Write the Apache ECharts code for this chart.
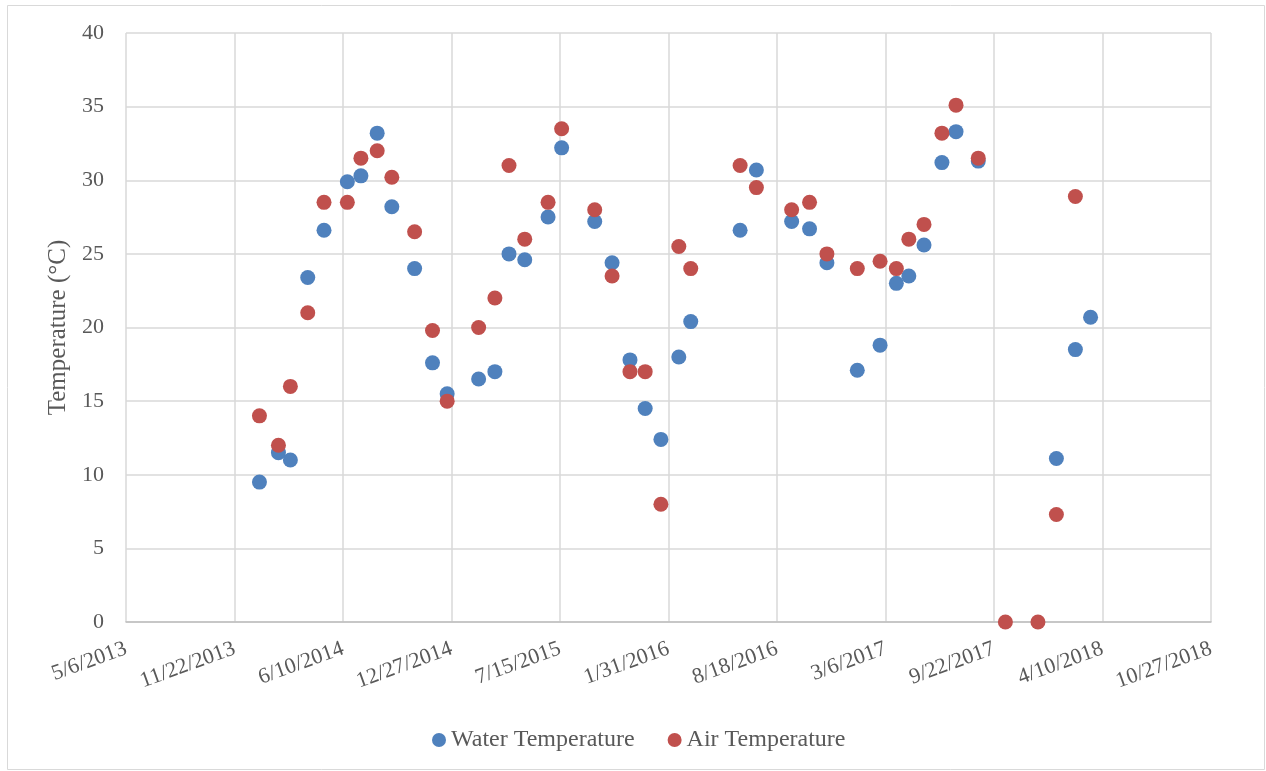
<!DOCTYPE html>
<html>
<head>
<meta charset="utf-8">
<script src="https://cdn.jsdelivr.net/npm/echarts@6/dist/echarts.min.js"></script>
<style>
html,body{margin:0;padding:0;background:#fff;}
#chart{width:1266px;height:771px;}
</style>
</head>
<body>
<div id="chart"></div>
<script>
// Sample dates (YYYY-MM-DD)
const sampleDates = [
  "2014-01-07","2014-02-11","2014-03-05","2014-04-06","2014-05-06","2014-06-18",
  "2014-07-13","2014-08-12","2014-09-08","2014-10-20","2014-11-22","2014-12-19",
  "2015-02-15","2015-03-17","2015-04-12","2015-05-11","2015-06-23","2015-07-18",
  "2015-09-17","2015-10-19","2015-11-21","2015-12-19","2016-01-17","2016-02-19",
  "2016-03-12","2016-06-11","2016-07-11","2016-09-14","2016-10-17","2016-11-18",
  "2017-01-13","2017-02-24","2017-03-26","2017-04-18","2017-05-16","2017-06-18",
  "2017-07-14","2017-08-24","2017-10-13","2017-12-12","2018-01-15","2018-02-19",
  "2018-03-19"
];
const waterTemp = [
  9.5, 11.5, 11.0, 23.4, 26.6, 29.9,
  30.3, 33.2, 28.2, 24.0, 17.6, 15.5,
  16.5, 17.0, 25.0, 24.6, 27.5, 32.2,
  27.2, 24.4, 17.8, 14.5, 12.4, 18.0,
  20.4, 26.6, 30.7, 27.2, 26.7, 24.4,
  17.1, 18.8, 23.0, 23.5, 25.6, 31.2,
  33.3, 31.3, null, null, 11.1, 18.5,
  20.7
];
const airTemp = [
  14.0, 12.0, 16.0, 21.0, 28.5, 28.5,
  31.5, 32.0, 30.2, 26.5, 19.8, 15.0,
  20.0, 22.0, 31.0, 26.0, 28.5, 33.5,
  28.0, 23.5, 17.0, 17.0, 8.0, 25.5,
  24.0, 31.0, 29.5, 28.0, 28.5, 25.0,
  24.0, 24.5, 24.0, 26.0, 27.0, 33.2,
  35.1, 31.5, 0, 0, 7.3, 28.9,
  null
];
// Axis settings (Excel serial day numbers): 5/6/2013 .. 10/27/2018, step 200 days
const xMinSerial = 41400;
const xMaxSerial = 43400;
const xStepDays = 200;
const yMin = 0, yMax = 40, yStep = 5;

const EXCEL_EPOCH = Date.UTC(1899, 11, 30);
function toSerial(s) {
  const p = s.split('-').map(Number);
  return Math.round((Date.UTC(p[0], p[1] - 1, p[2]) - EXCEL_EPOCH) / 86400000);
}
function serialToLabel(v) {
  const d = new Date(EXCEL_EPOCH + v * 86400000);
  return (d.getUTCMonth() + 1) + '/' + d.getUTCDate() + '/' + d.getUTCFullYear();
}
function pairs(vals) {
  const out = [];
  sampleDates.forEach((s, i) => { if (vals[i] !== null) out.push([toSerial(s), vals[i]]); });
  return out;
}

const font = '"Liberation Serif", "Times New Roman", serif';
const textColor = '#595959';
const chart = echarts.init(document.getElementById('chart'));
chart.setOption({
  backgroundColor: '#fff',
  animation: false,
  textStyle: { fontFamily: font },
  graphic: [{
    type: 'rect', left: 5, top: 3, z: -1,
    shape: { width: 1257, height: 764 },
    style: { fill: 'none', stroke: '#d9d9d9', lineWidth: 1 }
  }],
  grid: { left: 126, right: 55, top: 33, bottom: 149, containLabel: false },
  xAxis: {
    type: 'value',
    min: xMinSerial, max: xMaxSerial, interval: xStepDays,
    axisLine: { show: true, lineStyle: { color: '#bfbfbf', width: 1.5 } },
    axisTick: { show: false },
    splitLine: { show: true, lineStyle: { color: '#d9d9d9', width: 1.5 } },
    axisLabel: {
      rotate: 20, margin: 26, fontSize: 22, color: textColor, fontFamily: font,
      formatter: serialToLabel
    }
  },
  yAxis: {
    type: 'value',
    min: yMin, max: yMax, interval: yStep,
    name: 'Temperature (°C)',
    nameLocation: 'middle', nameGap: 55,
    nameTextStyle: { fontSize: 25, color: textColor, fontFamily: font },
    axisLine: { show: false },
    axisTick: { show: false },
    splitLine: { show: true, lineStyle: { color: '#d9d9d9', width: 1.5 } },
    axisLabel: { fontSize: 22, color: textColor, fontFamily: font, margin: 22 }
  },
  legend: {
    top: 723, left: 427,
    icon: 'circle', itemWidth: 14, itemHeight: 14, itemGap: 33,
    textStyle: { fontSize: 24, color: textColor, fontFamily: font },
    data: ['Water Temperature', 'Air Temperature']
  },
  series: [
    {
      name: 'Water Temperature', type: 'scatter', symbolSize: 15,
      itemStyle: { color: '#4f81bd', opacity: 1 },
      data: pairs(waterTemp)
    },
    {
      name: 'Air Temperature', type: 'scatter', symbolSize: 15,
      itemStyle: { color: '#c0504d', opacity: 1 },
      data: pairs(airTemp)
    }
  ]
});
</script>
</body>
</html>
